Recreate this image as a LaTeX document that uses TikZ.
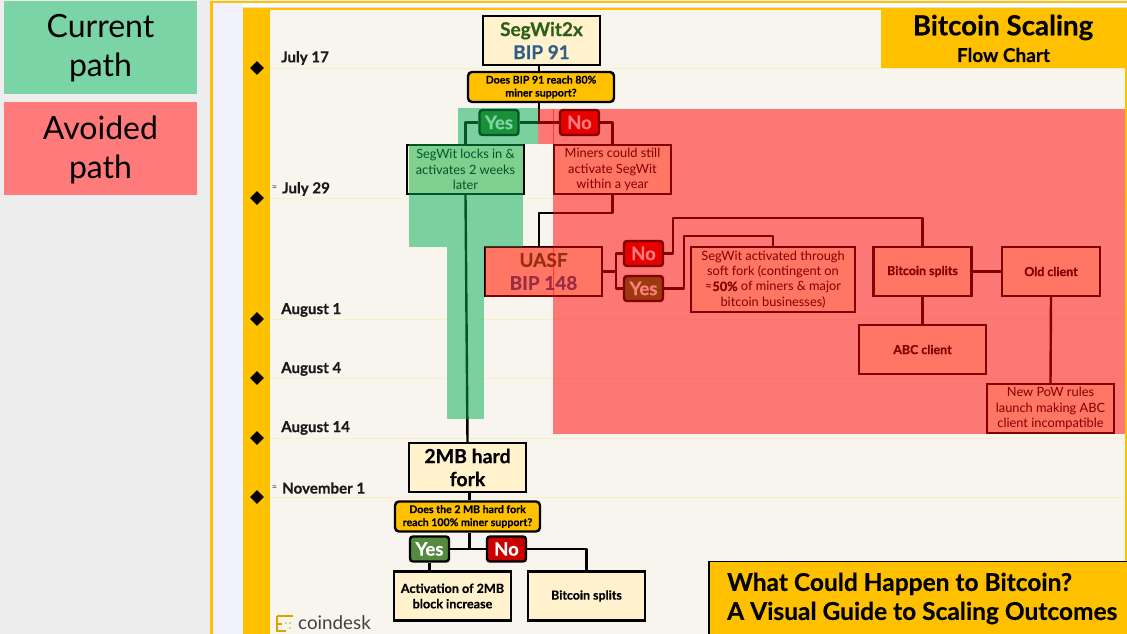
\documentclass[tikz,border=0pt]{standalone}
\usepackage{fontspec}
\setmainfont{Lato}[BoldFeatures={FakeBold=0.35}]
\usetikzlibrary{shapes.geometric,calc}
\definecolor{gold}{HTML}{FFC000}
\definecolor{cream}{HTML}{F8F5EE}
\definecolor{paper}{HTML}{FFF2CC}
\definecolor{yesg}{HTML}{38761D}
\definecolor{nor}{HTML}{CC0000}
\definecolor{bluet}{HTML}{2F5E8A}
\definecolor{ovg}{HTML}{00AD52}
\definecolor{gridl}{HTML}{FBEFC8}
\tikzset{
 box/.style={draw=black,line width=2.4pt,fill=paper,inner sep=0pt,align=center,text=black},
 ask/.style={box,fill=gold,rounded corners=4pt,font=\bfseries\fontsize{10.6}{13}\selectfont},
 yesb/.style={box,fill=yesg,rounded corners=3pt,text=white,font=\bfseries\fontsize{18.5}{20}\selectfont,minimum width=39pt,minimum height=25pt},
 nob/.style={yesb,fill=nor},
 wordy/.style={box,font=\fontsize{12.8}{15.4}\selectfont},
 strong/.style={box,font=\bfseries\fontsize{12.4}{15.4}\selectfont},
 link/.style={draw=black,line width=2.4pt,line join=round},
 dia/.style={diamond,fill=black,inner sep=0pt,minimum width=14pt,minimum height=14pt},
 datel/.style={anchor=west,inner sep=0pt,font=\bfseries\fontsize{15.1}{18}\selectfont,text=black!90},
 approxl/.style={anchor=west,inner sep=0pt,font=\fontsize{10}{10}\selectfont,text=black!70},
 gridline/.style={draw=gridl,line width=.8pt},
 ovgreen/.style={fill=ovg,fill opacity=.5,draw=none},
 ovred/.style={fill=red,fill opacity=.51,draw=none},
 legend/.style={inner sep=0pt,align=center,text=black,font=\fontsize{32}{39}\selectfont},
}
\begin{document}
\begin{tikzpicture}[x=1pt,y=-1pt]
\useasboundingbox (0,0) rectangle (1127,634);
% page
\fill[black!7] (0,0) rectangle (1127,634);
\fill[white] (210,1) rectangle (1127,634);
\fill[gold] (210,1) rectangle (1127,3.5);
\fill[gold] (210,1) rectangle (212.5,634);
\fill[blue!5!white] (212.5,3.5) rectangle (243,634);
\fill[black!12] (243,7) rectangle (1127,9);
\fill[gold] (243,8) rectangle (1127,634);
\fill[cream] (270,10.5) rectangle (1125,634);
\fill[gold] (881,10) rectangle (1127,68);
% grid
\foreach \yy in {68,198,319,378,438,497}{\draw[gridline] (270,\yy) -- (1125,\yy);}
\node[dia] (d1) at (257,68) {};
\node[dia] (d2) at (257,198) {};
\node[dia] (d3) at (257,319) {};
\node[dia] (d4) at (257,378) {};
\node[dia] (d5) at (257,438) {};
\node[dia] (d6) at (257,497) {};
\node[datel] (l1) at (281,58) {July 17};
\node[approxl] (a2) at (271.5,188.5) {≈};
\node[datel] (l2) at (282,189) {July 29};
\node[datel] (l3) at (281,310) {August 1};
\node[datel] (l4) at (281,369) {August 4};
\node[datel] (l5) at (281,428) {August 14};
\node[approxl] (a6) at (271.5,488) {≈};
\node[datel] (l6) at (282,488) {November 1};
% title
\node[inner sep=0pt,font=\bfseries\fontsize{27.7}{30}\selectfont] (t1) at (1003,27.5) {Bitcoin Scaling};
\node[inner sep=0pt,font=\bfseries\fontsize{19}{21}\selectfont] (t2) at (1003.5,55) {Flow Chart};
% boxes
\node[box,minimum width=117pt,minimum height=49pt,font=\bfseries\fontsize{19}{23}\selectfont] (seg) at (541.5,40.5) {\textcolor{yesg!80!black}{SegWit2x}\\\textcolor{bluet}{BIP 91}};
\node[ask,minimum width=146pt,minimum height=30pt] (q1) at (541,87) {Does BIP 91 reach 80\%\\miner support?};
\node[yesb] (yes1) at (499,122.5) {Yes};
\node[nob] (no1) at (579.5,122.5) {No};
\node[wordy,minimum width=117pt,minimum height=49pt] (locks) at (465.5,169.5) {SegWit locks in \&\\activates 2 weeks\\later};
\node[wordy,minimum width=117pt,minimum height=49pt] (miners) at (612.5,169.5) {Miners could still\\activate SegWit\\within a year};
\node[box,minimum width=117pt,minimum height=49pt,font=\bfseries\fontsize{19}{23}\selectfont] (uasf) at (543.5,271.5) {\textcolor{yesg!80!black}{UASF}\\\textcolor{bluet}{BIP 148}};
\node[nob] (no2) at (643.5,253.5) {No};
\node[yesb] (yes2) at (643.5,288.5) {Yes};
\node[wordy,minimum width=164pt,minimum height=65pt] (act) at (773,279.5) {SegWit activated through\\soft fork (contingent on\\≈\textbf{50\%} of miners \& major\\bitcoin businesses)};
\node[strong,minimum width=98pt,minimum height=49pt] (split) at (922.5,271.5) {Bitcoin splits};
\node[strong,minimum width=98pt,minimum height=49pt] (old) at (1051,271.5) {Old client};
\node[strong,minimum width=127pt,minimum height=49pt] (abc) at (922.5,349.5) {ABC client};
\node[wordy,minimum width=127pt,minimum height=49pt] (pow) at (1050.5,408.5) {New PoW rules\\launch making ABC\\client incompatible};
\node[box,minimum width=117pt,minimum height=49pt,font=\bfseries\fontsize{19.5}{23}\selectfont] (fork) at (467.5,467.5) {2MB hard\\fork};
\node[ask,minimum width=145pt,minimum height=30pt] (q2) at (467.5,516.5) {Does the 2 MB hard fork\\reach 100\% miner support?};
\node[yesb,fill=yesg!85!white] (yes3) at (429.5,549) {Yes};
\node[nob] (no3) at (506.5,549) {No};
\node[strong,minimum width=117pt,minimum height=49pt,font=\bfseries\fontsize{12.6}{15.4}\selectfont] (activ) at (452.5,596) {Activation of 2MB\\block increase};
\node[strong,minimum width=117pt,minimum height=49pt] (split2) at (586.5,596) {Bitcoin splits};
% junctions
\coordinate (jq) at (539,122.5);
\coordinate (jm) at (539,213);
\coordinate (ju) at (616,271.5);
\coordinate (jn) at (673,218);
\coordinate (jy) at (684,236);
\coordinate (jf) at (469.5,549);
% connectors
\draw[link] (jq |- seg.south) -- (jq |- q1.north);
\draw[link] (jq |- q1.south) -- (jq);
\draw[link] (yes1.east) -- (no1.west);
\draw[link] (yes1.west) -| (locks.north);
\draw[link] (no1.east) -| (miners.north);
\draw[link] (miners.south) |- (jm) -- (jm |- uasf.north);
\draw[link] (locks.south) -- (fork.north);
\draw[link] (uasf.east) -- (ju);
\draw[link] (no2.west) -| (ju) |- (yes2.west);
\draw[link] (no2.east) -| (jn) -| (split.north);
\draw[link] (yes2.east) -| (jy) -| (act.north);
\draw[link] (split.east) -- (old.west);
\draw[link] (split.south) -- (abc.north);
\draw[link] (old.south) -- (pow.north);
\draw[link] (jf |- fork.south) -- (jf |- q2.north);
\draw[link] (jf |- q2.south) -- (jf);
\draw[link] (yes3.east) -- (no3.west);
\draw[link] (yes3.south) -- (yes3.south |- activ.north);
\draw[link] (no3.east) -| (split2.north);
% coindesk
\node[anchor=west,inner sep=0pt,text=black!75,font=\fontsize{18.8}{20}\selectfont] (cd) at (298,622.5) {coindesk};
\draw[gold!85!black,line width=2pt] (277,616) -- (293,616) (277,616) -- (277,631) -- (286,631) (277,623.5) -- (282,623.5);
\fill[gold!85!black] (286,623) circle (.8pt) (290,623) circle (.8pt) (290,628) circle (.8pt);
% overlays
\fill[ovgreen] (458,108) rectangle (538,144);
\fill[ovgreen] (409,144) rectangle (523,247);
\fill[ovgreen] (447,246.5) rectangle (484,419);
\fill[ovred] (538,108.5) rectangle (554,144);
\fill[ovred] (553,109) rectangle (1125,434);
\fill[ovred] (484.5,247) rectangle (553.5,297);
% bottom title
\node[draw=black,line width=1.6pt,fill=gold,minimum width=421pt,minimum height=76pt,anchor=north west,inner sep=0pt] (bt) at (708,560.5) {};
\node[anchor=west,inner sep=0pt,align=left,font=\bfseries\fontsize{24.5}{29}\selectfont] (btt) at (727,598.5) {What Could Happen to Bitcoin?\\A Visual Guide to Scaling Outcomes};
% legend
\fill[ovg!52!white] (4,1) rectangle (197,94);
\fill[red!52!white] (4,102) rectangle (197,195);
\node[legend] (lg) at (100.5,48.5) {Current\\path};
\node[legend] (lr) at (100.5,149.5) {Avoided\\path};
\end{tikzpicture}
\end{document}
